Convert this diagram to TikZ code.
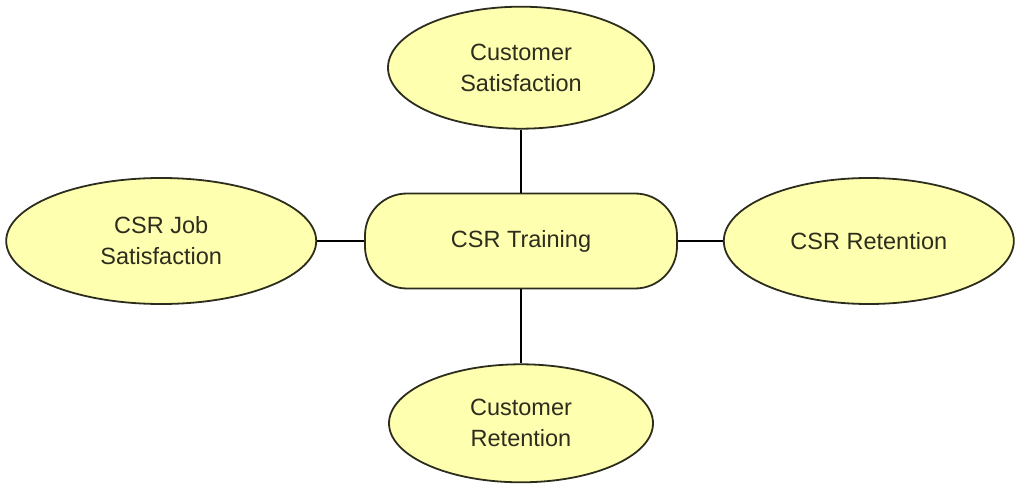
\documentclass[tikz,border=0pt]{standalone}
\usepackage{fontspec}
\setmainfont{Liberation Sans}
\usetikzlibrary{positioning, shapes.geometric}
\definecolor{paleyellow}{RGB}{255,255,176}
\definecolor{inkdark}{RGB}{45,45,30}
\tikzset{
    every node/.style={font=\fontsize{23.5}{31}\selectfont, text=inkdark},
    topicoval/.style={draw=inkdark, fill=paleyellow, ellipse, line width=1.8pt, align=center, inner sep=0pt},
    corebox/.style={draw=inkdark, fill=paleyellow, rounded corners=42pt, line width=1.8pt, align=center,
        minimum width=312pt, minimum height=95pt},
    link/.style={line width=2.6pt, draw=black},
}
\begin{document}
\begin{tikzpicture}[x=1pt, y=1pt]
\useasboundingbox (0,0) rectangle (1022,-486);
% centre box
\node[corebox] (training) at (521,-241) {CSR Training};
% the four ovals around it
\node[topicoval, minimum width=266pt, minimum height=122pt, above=63pt of training] (custsat) {Customer\\Satisfaction};
\node[topicoval, minimum width=264pt, minimum height=118pt, below=74pt of training] (custret) {Customer\\Retention};
\node[topicoval, minimum width=310pt, minimum height=126pt, left=47pt of training] (csrjob) {CSR Job\\Satisfaction};
\node[topicoval, minimum width=290pt, minimum height=126pt, right=45pt of training] (csrret) {CSR Retention};

\foreach \n in {custsat, custret, csrjob, csrret}{
  \draw[link] (training) -- (\n);
}
\end{tikzpicture}
\end{document}
